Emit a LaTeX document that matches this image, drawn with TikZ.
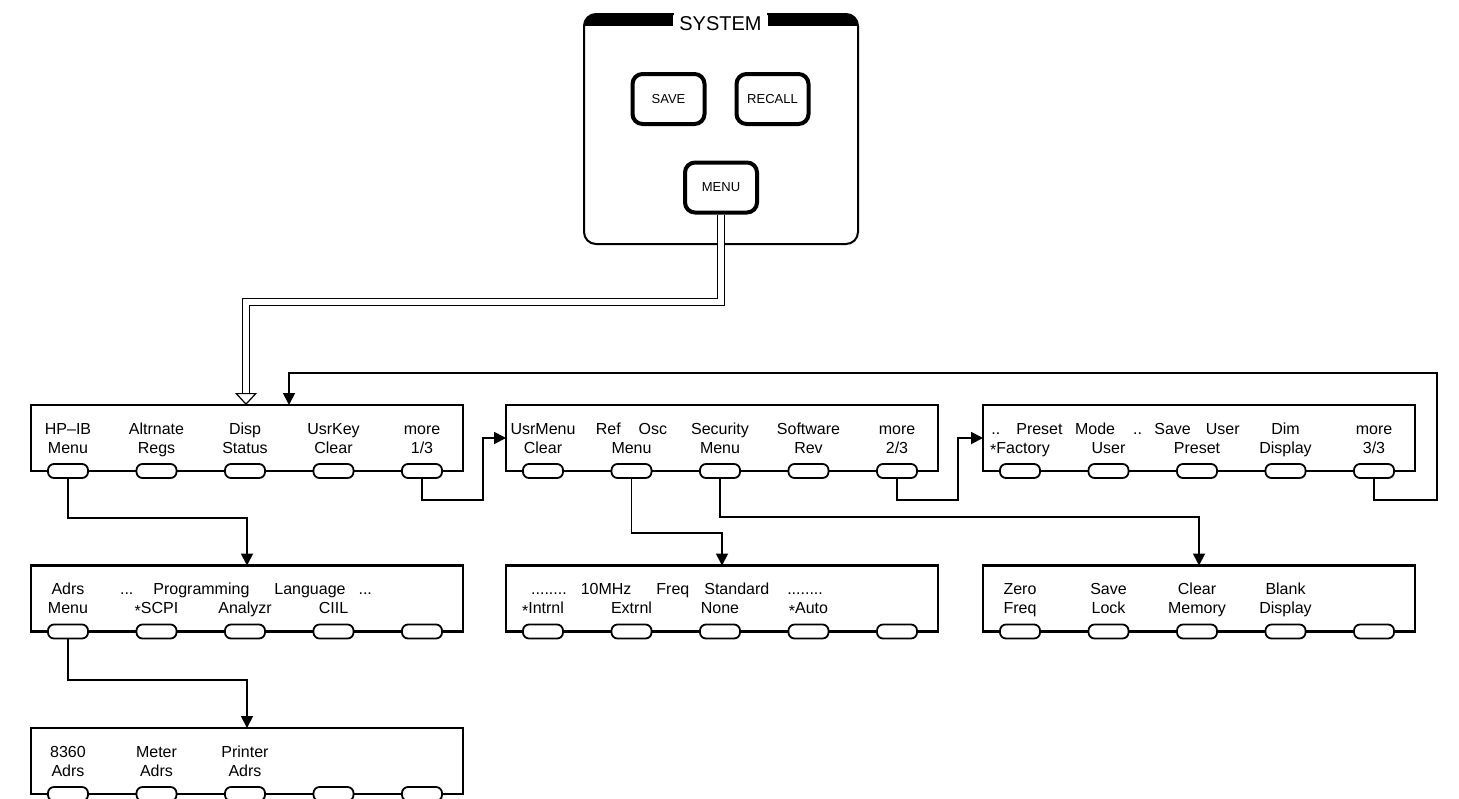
\documentclass[tikz,border=0pt]{standalone}
\usepackage{fontspec}
\setmainfont{Liberation Sans}
\usetikzlibrary{arrows.meta, calc}

\newcommand{\st}{\raisebox{-.35ex}{*}}

\begin{document}
\begin{tikzpicture}[
    x=0.5pt, y=-0.5pt,
    menubox/.style={draw, line width=1.3pt, minimum width=216pt, minimum height=33pt,
                    inner sep=0pt, outer sep=0pt},
    softkey/.style={draw, fill=white, line width=0.9pt, rounded corners=3pt,
                    minimum width=20pt, minimum height=7pt, inner sep=0pt},
    hwkey/.style={draw, line width=2pt, rounded corners=5pt, minimum width=36pt,
                  minimum height=25pt, font=\fontsize{6.5}{7}\selectfont},
    lbl/.style={anchor=base, inner sep=0pt, font=\fontsize{8}{9.5}\selectfont},
    arr/.style={-{Triangle[width=6pt,length=6pt]}, line width=0.9pt},
    dbl/.style={draw=black, line width=0.6pt, double=white, double distance=3pt},
]
    \useasboundingbox (0,0) rectangle (1459,798);

    % front panel
    \node[draw, line width=1pt, rounded corners=6pt, minimum width=137pt,
          minimum height=115pt, outer sep=0pt] (sys) at (721,129) {};
    \begin{scope}
        \clip[rounded corners=6pt] (sys.north west) rectangle (sys.south east);
        \fill (sys.north west) rectangle (673,26);
        \fill (768,14) rectangle (858,26);
    \end{scope}
    \node[fill=white, inner xsep=2.5pt, inner ysep=2pt,
          font=\fontsize{10}{12}\selectfont] (title) at (720.5,23.5) {SYSTEM};

    \node[hwkey] (save)   at (668.5,99)  {SAVE};
    \node[hwkey] (recall) at (772.5,99)  {RECALL};
    \node[hwkey] (menu)   at (721,187.5) {MENU};

    % softkey menus
    \node[menubox] (mA) at (247,438) {};
    \node[menubox] (mB) at (722,438) {};
    \node[menubox] (mC) at (1199,438) {};
    \node[menubox] (mD) at (247,598.5) {};
    \node[menubox] (mE) at (722,598.5) {};
    \node[menubox] (mF) at (1199,598.5) {};
    \node[menubox] (mG) at (247,761) {};

    \foreach \m in {A,B,C,D,E,F,G}
        \foreach \k in {1,...,5}
            \node[softkey] (k\m\k) at ($(m\m.south)+({-179+88.5*(\k-1)},0)$) {};

    \foreach \m/\k/\la/\lb in {
        A/1/HP–IB/Menu, A/2/Altrnate/Regs, A/3/Disp/Status, A/4/UsrKey/Clear, A/5/more/{1/3},
        B/1/UsrMenu/Clear, B/2/{Ref\hspace{9pt}Osc}/Menu, B/3/Security/Menu,
        B/4/Software/Rev, B/5/more/{2/3},
        C/1/{\hspace{7pt}..\hspace{8pt}Preset}/{\st Factory}, C/2/{Mode\hspace{9pt}..}/User,
        C/3/{Save\hspace{7.5pt}User}/Preset, C/4/Dim/Display, C/5/more/{3/3},
        D/1/Adrs/Menu,
        F/1/Zero/Freq, F/2/Save/Lock, F/3/Clear/Memory, F/4/Blank/Display,
        G/1/8360/Adrs, G/2/Meter/Adrs, G/3/Printer/Adrs}{
        \node[lbl] (t\m\k a) at ($(m\m.south)+({-179+88.5*(\k-1)},-37)$) {\la};
        \node[lbl] (t\m\k b) at ($(m\m.south)+({-179+88.5*(\k-1)},-18)$) {\lb};
    }
    \foreach \m/\k/\lb in {D/2/\st SCPI, D/3/Analyzr, D/4/CIIL,
                           E/1/\st Intrnl, E/2/Extrnl, E/3/None, E/4/\st Auto}
        \node[lbl] (t\m\k b) at ($(m\m.south)+({-179+88.5*(\k-1)},-18)$) {\lb};

    \node[lbl] (tDh) at ($(mD.south)+(-1,-37)$)
        {...\hspace{10pt}Programming\hspace{12.5pt}Language\hspace{6.5pt}...};
    \node[lbl] (tEh) at ($(mE.south)+(-45,-37)$)
        {........\hspace{7pt}10MHz\hspace{12.5pt}Freq\hspace{7.5pt}Standard\hspace{9pt}........};

    % connectors
    \coordinate (jA) at (483,500);
    \coordinate (jB) at (958,500);
    \coordinate (jC) at (1437,500);
    \coordinate (jR) at (1437,373);
    \coordinate (fA) at (289,405);
    \coordinate (jD) at (247,518);
    \coordinate (jE) at (722,533);
    \coordinate (jF) at (1199,517);
    \coordinate (jG) at (247,680);
    \coordinate (dB) at (246,302);
    \coordinate (dC) at (246,393);

    \draw[dbl] (menu.south) |- (dB) -- (dC);
    \draw[line width=0.6pt, -{Triangle[open,width=11pt,length=6pt]}] (dC) -- (dC |- mA.north);

    \draw[arr] (kA5.south) |- (jA) |- (mB.west);
    \draw[arr] (kB5.south) |- (jB) |- (mC.west);
    \draw[arr] (kC5.south) |- (jC) -- (jR) -| (fA);
    \draw[arr] (kA1.south) |- (jD) -- (mD.north);
    \draw[arr] (kB2.south) |- (jE) -- (mE.north);
    \draw[arr] (kB3.south) |- (jF) -- (mF.north);
    \draw[arr] (kD1.south) |- (jG) -- (mG.north);
\end{tikzpicture}
\end{document}
